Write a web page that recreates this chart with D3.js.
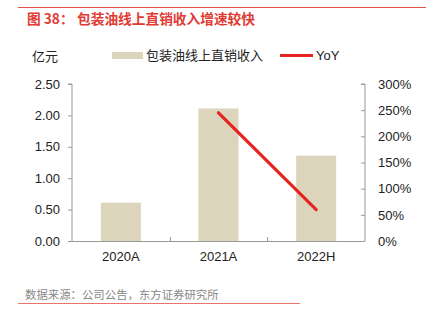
<!DOCTYPE html>
<html><head><meta charset="utf-8">
<script src="https://cdn.jsdelivr.net/npm/d3@7"></script>
<style>body{margin:0;background:#fff}svg{display:block;font-family:"Liberation Sans","Noto Sans CJK SC",sans-serif}</style>
</head><body><svg id="c" width="426" height="322"></svg>
<script>
const categories = ["2020A", "2021A", "2022H"];
const revenue = [0.61, 2.11, 1.36];
const yoy = [null, 2.45, 0.60];
const leftTicks = [0, 0.5, 1.0, 1.5, 2.0, 2.5];
const rightTicks = [0, 0.5, 1.0, 1.5, 2.0, 2.5, 3.0];
const seriesNames = ["包装油线上直销收入", "YoY"];
const titlePrefix = "图 38：";
const titleText = "包装油线上直销收入增速较快";
const unitText = "亿元";
const sourceText = "数据来源：公司公告，东方证券研究所";

const svg = d3.select("#c");
const cjk = '"Noto Sans CJK SC",sans-serif';
const red = "#E52420";
const barColor = "#DDD4BC";
const fs = 13;

svg.append("line").attr("x1",18).attr("x2",426).attr("y1",7.5).attr("y2",7.5).attr("stroke","#E8504A").attr("stroke-width",1);
const title = svg.append("text").attr("y",24).attr("fill","#E03A33").attr("font-size",13.7).attr("font-weight","bold").style("font-family",cjk);
title.append("tspan").attr("x",27).text(titlePrefix);
title.append("tspan").attr("x",77).text(titleText);

const x = d3.scaleBand().domain(categories).range([72,365]).paddingInner(0.59).paddingOuter(0.295);
const y = d3.scaleLinear().domain([0,2.5]).range([241,84]);
const y2 = d3.scaleLinear().domain([0,3]).range([241,84]);

// bars
svg.append("g").selectAll("rect").data(revenue).join("rect")
  .attr("x",(d,i)=>x(categories[i])).attr("width",x.bandwidth())
  .attr("y",d=>y(d)).attr("height",d=>y(0)-y(d)).attr("fill",barColor);

// left axis
const gl = svg.append("g").attr("transform","translate(72,0)").call(d3.axisLeft(y).tickValues(leftTicks).tickFormat(d3.format(".2f")).tickSize(4).tickPadding(8));
gl.selectAll("text").attr("font-size",fs).attr("fill","#222").style("font-family","'Liberation Sans',Arial,sans-serif");
gl.selectAll("line,path").attr("stroke","#999");
gl.select(".domain").attr("d","M-4,84H0V241");

// right axis
const gr = svg.append("g").attr("transform","translate(365,0)").call(d3.axisRight(y2).tickValues(rightTicks).tickFormat(d=>Math.round(d*100)+"%").tickSize(4).tickPadding(9));
gr.selectAll("text").attr("font-size",fs).attr("fill","#222").style("font-family","'Liberation Sans',Arial,sans-serif");
gr.selectAll("line,path").attr("stroke","#999");
gr.selectAll(".tick line").attr("x2",-4);
gr.select(".domain").attr("d","M-4,84H0V241");

// bottom axis
const boundaries = categories.map(c=>x(c)-x.step()*x.paddingInner()/2).slice(1);
svg.append("line").attr("x1",72).attr("x2",365).attr("y1",241.5).attr("y2",241.5).attr("stroke","#999");
svg.append("g").selectAll("line").data(boundaries).join("line")
  .attr("x1",d=>Math.round(d)+0.5).attr("x2",d=>Math.round(d)+0.5).attr("y1",241).attr("y2",237).attr("stroke","#999");
svg.append("g").selectAll("text").data(categories).join("text")
  .attr("x",d=>x(d)+x.bandwidth()/2).attr("y",261).attr("text-anchor","middle")
  .attr("font-size",fs).attr("fill","#222").text(d=>d);

// YoY line
const pts = yoy.map((v,i)=>[categories[i],v]).filter(d=>d[1]!=null);
svg.append("path").datum(pts)
  .attr("d",d3.line().x(d=>x(d[0])+x.bandwidth()/2).y(d=>y2(d[1])))
  .attr("fill","none").attr("stroke",red).attr("stroke-width",3.2).attr("stroke-linecap","round");

// unit
svg.append("text").attr("x",32).attr("y",61).text(unitText).attr("font-size",fs).attr("fill","#222").style("font-family",cjk);

// legend
svg.append("rect").attr("x",112).attr("y",52).attr("width",31).attr("height",7).attr("fill",barColor);
svg.append("text").attr("x",146).attr("y",60).text(seriesNames[0]).attr("font-size",fs).attr("fill","#222").style("font-family",cjk);
svg.append("line").attr("x1",280).attr("x2",313).attr("y1",55.5).attr("y2",55.5).attr("stroke",red).attr("stroke-width",3);
svg.append("text").attr("x",316).attr("y",60).text(seriesNames[1]).attr("font-size",fs).attr("fill","#222");

// source
svg.append("text").attr("x",25).attr("y",299).text(sourceText).attr("font-size",11.4).attr("fill","#888").style("font-family",cjk);
svg.append("line").attr("x1",18).attr("x2",300).attr("y1",303.5).attr("y2",303.5).attr("stroke","#E8746E").attr("stroke-width",1);
</script></body></html>
